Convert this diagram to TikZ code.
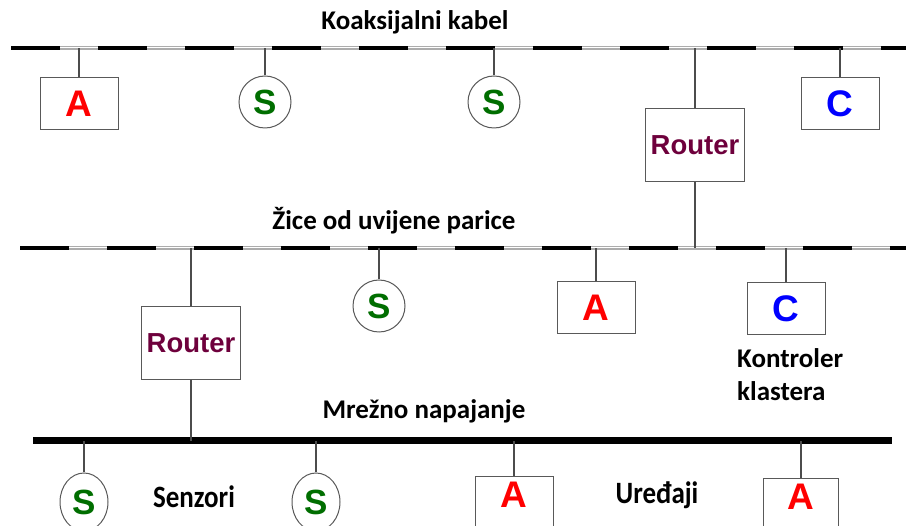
\documentclass[tikz,border=0pt]{standalone}
\usepackage{fontspec}
\usetikzlibrary{shapes.geometric}
\setmainfont{Carlito}
\newfontfamily\devfont{Liberation Sans}
\definecolor{actred}{RGB}{255,0,0}
\definecolor{sensgreen}{RGB}{0,110,0}
\definecolor{ctrlblue}{RGB}{0,0,255}
\definecolor{routmaroon}{RGB}{110,0,60}
\begin{document}
\begin{tikzpicture}[x=1pt,y=-1pt,
  outline/.style={draw=black!65,line width=1pt,fill=white},
  devbox/.style={outline,rectangle,minimum width=78pt,minimum height=52pt,inner sep=0pt,
    font=\devfont\bfseries\fontsize{37}{37}\selectfont},
  lowbox/.style={devbox,minimum height=0pt,text height=31pt,text depth=26pt,anchor=north},
  sensor/.style={outline,circle,minimum size=52pt,inner sep=0pt,text=sensgreen,
    font=\devfont\bfseries\fontsize{35}{35}\selectfont},
  lowsensor/.style={outline,ellipse,minimum width=48pt,minimum height=58pt,inner sep=0pt,text=sensgreen,
    font=\devfont\bfseries\fontsize{35}{35}\selectfont},
  router/.style={outline,rectangle,minimum width=99pt,minimum height=73pt,inner sep=0pt,text=routmaroon,
    font=\devfont\bfseries\fontsize{27.5}{27.5}\selectfont},
  title/.style={font=\bfseries\fontsize{27}{33}\selectfont,inner sep=0pt},
  link/.style={draw=black!70,line width=1.2pt},
  cable/.style={line width=4.5pt,dash pattern=on 49pt off 38pt}]
\useasboundingbox (0,0) rectangle (906,526);
\clip (0,0) rectangle (906,526);
% bus ends
\coordinate (K0) at (11,48);
\coordinate (K1) at (906,48);
\coordinate (T0) at (20,248);
\coordinate (T1) at (906,248);
\coordinate (M0) at (33,441);
\coordinate (M1) at (892,441);
% cables
\draw[gray!65,line width=4.5pt] (K0) -- (K1);
\draw[white,line width=1pt] (K0) -- (K1);
\draw[cable] (K0) -- (K1);
\draw[gray!65,line width=4.5pt] (T0) -- (T1);
\draw[white,line width=1pt] (T0) -- (T1);
\draw[cable] (T0) -- (T1);
\draw[line width=7pt] (M0) -- (M1);
% titles
\node[title] (tK) at (415,22) {Koaksijalni kabel};
\node[title] (tT) at (394,221) {Žice od uvijene parice};
\node[title] (tM) at (424,411) {Mrežno napajanje};
\node[title,align=left,anchor=north west] (tC) at (737,348) {Kontroler\\klastera};
\node[title,yscale=1.15] (tS) at (194,497) {Senzori};
\node[title,yscale=1.15] (tU) at (657,495) {Uređaji};
% coaxial cable devices
\node[devbox,text=actred] (A1) at (79,104) {A};
\node[sensor] (S1) at (265,102) {S};
\node[sensor] (S2) at (494,102) {S};
\node[router] (R1) at (695,145) {Router};
\node[devbox,text=ctrlblue] (C1) at (840,104) {C};
\draw[link] (A1.north) -- (A1.north |- K0);
\draw[link] (S1.north) -- (S1.north |- K0);
\draw[link] (S2.north) -- (S2.north |- K0);
\draw[link] (C1.north) -- (C1.north |- K0);
\draw[link] (R1.north) -- (R1.north |- K0);
\draw[link] (R1.south) -- (R1.south |- T0);
% twisted pair devices
\node[router] (R2) at (191,343) {Router};
\node[sensor] (S3) at (379,306) {S};
\node[devbox,text=actred] (A2) at (596,308) {A};
\node[devbox,text=ctrlblue] (C2) at (786,309) {C};
\draw[link] (R2.north) -- (R2.north |- T0);
\draw[link] (R2.south) -- (R2.south |- M0);
\draw[link] (S3.north) -- (S3.north |- T0);
\draw[link] (A2.north) -- (A2.north |- T0);
\draw[link] (C2.north) -- (C2.north |- T0);
% power line devices
\node[lowsensor] (S4) at (84,502) {S};
\node[lowsensor] (S5) at (316,502) {S};
\node[lowbox,text=actred] (A3) at (514,476) {A};
\node[lowbox,text=actred,minimum width=75pt] (A4) at (801,478) {A};
\draw[link] (S4.north) -- (S4.north |- M0);
\draw[link] (S5.north) -- (S5.north |- M0);
\draw[link] (A3.north) -- (A3.north |- M0);
\draw[link] (A4.north) -- (A4.north |- M0);
\end{tikzpicture}
\end{document}
